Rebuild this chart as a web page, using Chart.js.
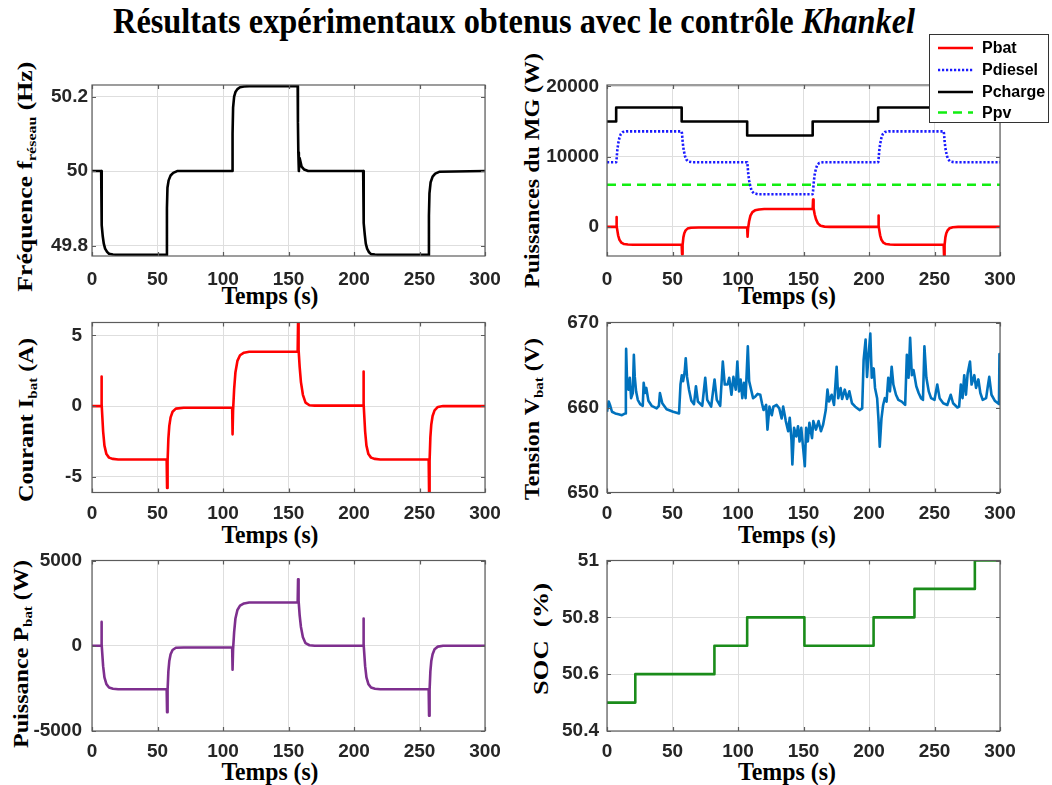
<!DOCTYPE html>
<html>
<head>
<meta charset="utf-8">
<script src="https://cdn.jsdelivr.net/npm/chart.js@4.4.1/dist/chart.umd.min.js"></script>
<style>
html, body { margin: 0; padding: 0; background: #fff; }
#page { position: relative; width: 1052px; height: 785px; overflow: hidden; background: #fff; }
#page canvas { position: absolute; left: 0; top: 0; }
.txt { position: absolute; left: 0; top: 0; white-space: pre; font-family: 'Liberation Serif', 'Times New Roman', serif;
       font-weight: bold; color: #000; line-height: 1; transform-origin: 0 0; }
.txt sub { font-size: 0.62em; line-height: 0; vertical-align: -0.3em; }
</style>
</head>
<body>
<div id="page">
  <div class="txt" id="title" style="font-size:35px">Résultats expérimentaux obtenus avec le contrôle <i>Khankel</i></div>
  <div class="txt" id="yl1" style="font-size:24px">Fréquence f<sub>réseau</sub> (Hz)</div>
  <div class="txt" id="yl2" style="font-size:24px">Puissances du MG (W)</div>
  <div class="txt" id="yl3" style="font-size:24px">Courant I<sub>bat</sub> (A)</div>
  <div class="txt" id="yl4" style="font-size:24px">Tension V<sub>bat</sub> (V)</div>
  <div class="txt" id="yl5" style="font-size:24px">Puissance P<sub>bat</sub> (W)</div>
  <div class="txt" id="yl6" style="font-size:24px">SOC  (%)</div>
  <div class="txt" id="xl1" style="font-size:26px">Temps (s)</div>
  <div class="txt" id="xl2" style="font-size:26px">Temps (s)</div>
  <div class="txt" id="xl3" style="font-size:26px">Temps (s)</div>
  <div class="txt" id="xl4" style="font-size:26px">Temps (s)</div>
  <div class="txt" id="xl5" style="font-size:26px">Temps (s)</div>
  <div class="txt" id="xl6" style="font-size:26px">Temps (s)</div>
</div>
<script>
// ------------------------- DATA -------------------------
const timeTicks  = [0, 50, 100, 150, 200, 250, 300];
const freqTicks  = [49.8, 50, 50.2];
const powerTicks = [0, 10000, 20000];
const ibatTicks  = [-5, 0, 5];
const vbatTicks  = [650, 660, 670];
const pbatTicks  = [-5000, 0, 5000];
const socTicks   = [50.4, 50.6, 50.8, 51];

const freqTime = [0,7,7.2,7.6,8.2,9,10,11.5,13,16,20, 57,57.2,57.6,58.5,60,62,65,
  107,107.3,107.7,108.5,109.5,111,113,116,120, 157,157.2,157.5,157.9,158.5,160,162,165,
  207,207.2,207.6,208.2,209,210,211.5,213,216,220, 257,257.2,257.6,258.5,260,262,265, 300];
const freqHz = [50,50,49.9,49.855,49.825,49.805,49.792,49.783,49.778,49.776,49.775,
  49.775,49.9,49.955,49.975,49.988,49.995,50,
  50,50.1,50.17,50.2,50.212,50.22,50.225,50.227,50.228,
  50.228,50.13,50.05,50.0,50.035,50.012,50.004,50,
  50,49.9,49.86,49.83,49.805,49.792,49.782,49.777,49.776,49.775,
  49.775,49.88,49.94,49.97,49.985,49.993,49.998, 50];

const pbatTime = [0,7,7.2,7.5,8.5,9.5,11,13,16,20, 57,57.3,57.7,58.3,59,60,61.5,64,70,
  107,107.3,107.7,108.5,109.5,111,113,116,120, 157,157.3,157.7,158.5,159.5,161,163,166,170,
  207,207.2,207.5,208.5,209.5,211,213,216,220, 257,257.3,257.7,258.3,259,260,261.5,264,268, 300];
const pbatW = [0,0,1400,100,-1200,-1850,-2250,-2450,-2520,-2550,
  -2550,-3900,-2600,-1500,-900,-500,-250,-120,-100,
  -100,-1400,-200,800,1600,2100,2350,2480,2540,
  2550,3900,2650,1800,1100,500,150,30,0,
  0,1600,100,-1200,-1850,-2250,-2450,-2520,-2550,
  -2550,-4100,-2600,-1500,-900,-500,-200,-50,0, 0];

const pdieselTime = [0,7,7.3,7.8,8.5,9.5,10.5,12,15, 57,57.3,57.8,58.5,59.5,60.5,62,65,
  107,107.3,107.8,108.5,109.5,110.5,112,115, 157,157.3,157.8,158.5,159.5,160.5,162,165,
  207,207.3,207.8,208.5,209.5,210.5,212,215, 257,257.3,257.8,258.5,259.5,260.5,262,265, 300];
const pdieselW = [9200,9200,9600,10800,11800,12700,13200,13500,13600,
  13600,13200,12000,11000,10100,9600,9300,9200,
  9200,8800,7600,6600,5700,5100,4800,4650,
  4650,5100,6300,7400,8300,8800,9100,9200,
  9200,9600,10800,11800,12700,13200,13500,13600,
  13600,13200,12000,11000,10100,9600,9300,9200, 9200];

const pchargeTime = [0,7,7,57,57,107,107,157,157,207,207,257,257,300];
const pchargeW = [15000,15000,17000,17000,15000,15000,13000,13000,15000,15000,17000,17000,15000,15000];

const ppvTime = [0, 300];
const ppvW = [6000, 6000];

const ibatTime = [0,7,7.2,7.5,8.5,9.5,11,13,16,20, 57,57.3,57.7,58.3,59,60,61.5,64,70,
  107,107.3,107.7,108.5,109.5,111,113,116,120, 157,157.3,157.7,158.5,159.5,161,163,166,170,
  207,207.2,207.5,208.5,209.5,211,213,216,220, 257,257.3,257.7,258.3,259,260,261.5,264,268, 300];
const ibatA = [0,0,2.1,0.15,-1.8,-2.8,-3.4,-3.65,-3.74,-3.78,
  -3.78,-5.8,-3.9,-2.3,-1.4,-0.8,-0.4,-0.18,-0.12,
  -0.12,-2.0,-0.3,1.2,2.4,3.2,3.6,3.78,3.85,
  3.87,5.95,4.0,2.8,1.7,0.8,0.25,0.06,0.03,
  0.03,2.45,0.15,-1.8,-2.8,-3.4,-3.65,-3.74,-3.78,
  -3.78,-6.1,-3.9,-2.2,-1.3,-0.7,-0.3,-0.06,0, 0];

const vbatTime = [0,1.3,2.5,3.8,6.3,8.8,11.4,13.9,14.4,14.6,15.4,16.4,17.4,18.4,19.7,20.5,21.2,22.2,23.5,25.3,
  27.3,28.0,29.0,30.0,31.6,34.1,37.9,39.6,40.4,42.2,45.5,50.5,55.0,56.1,57.1,58.1,59.3,60.1,61.1,62.6,
  64.4,66.4,67.9,69.4,72.7,75.0,76.5,79.5,82.1,83.8,86.4,88.4,89.9,92,93.3,95,96.5,98.3,99.5,100.8,
  102,103.3,104.5,105.8,107.5,108.5,110,111.5,113.3,115,117,118.3,119.5,121.5,122.5,124,125.8,127,129.5,131.5,
  133.3,134.5,136.5,138.3,139.5,140.8,141.5,142.8,144.5,145.8,147,148.3,149.5,151,152,153.3,154.5,156.5,157.5,159.5,
  161.5,163.3,165,167,168.3,169.5,171.5,173.3,175.3,176.5,178.3,179.5,181.5,183.3,185,187,189.5,192.8,194.8,195.9,
  197.4,198.5,199.5,201.0,202.1,203.6,204.6,206.2,207.2,208.2,209.5,210.8,212.1,213.4,214.7,216.0,217.3,218.6,220.6,222.4,
  225.0,227.6,228.9,230.2,231.4,232.7,234.0,236.1,237.9,239.7,241.2,242.3,243.8,245.6,247.4,250.0,252.1,253.9,256.7,259.8,
  262.4,264.2,267.5,268.8,270.1,271.4,272.7,274.0,275.3,277.1,278.3,280.4,281.7,283.5,285.0,286.8,289.4,290.7,291.8,293.5,
  296,299.2,299.6,300];
const vbatV = [659.5,660.7,660.2,659.5,659.3,659.2,659.1,659.3,663.5,666.9,662.7,662.1,663.5,661.1,661.7,666.2,663.6,661.9,660.9,660.4,
  660.2,662.9,661.7,662.3,660.8,660.2,659.9,660.2,661.7,660.5,659.8,659.5,659.3,662.7,663.8,663.1,664.2,665.8,663.6,662.1,
  660.8,660.4,662.5,660.7,660.2,663.5,660.9,660.1,663.3,660.9,660.2,665.4,662.7,662.7,663.5,661.5,663.6,662.1,665.4,661.9,
  663.3,661.1,662.9,661.1,667.2,663.1,662.1,661.1,661.3,661.6,661.5,660.5,659.7,660.3,657.4,660.1,659.1,660.1,660.3,659.9,
  658.7,660.1,658.4,657.2,658.8,656.2,653.3,657.6,656.6,657.8,656.0,657.6,655.6,653.1,657.6,656.0,658.2,656.4,658.4,657.4,
  658.4,657.2,658.0,659.7,662.1,660.7,661.5,660.3,664.8,661.1,662.3,661.0,662.1,661.0,661.9,660.5,660.1,659.7,659.9,665.6,
  668.0,663.6,665.8,668.7,663.5,664.6,662.3,661.1,658.7,655.4,658.7,660.3,661.1,660.7,663.5,661.9,664.8,662.7,661.5,660.9,
  660.7,660.3,666.2,663.5,668.2,663.8,664.4,662.5,661.7,661.1,660.9,667.2,663.5,661.9,661.1,660.9,662.7,661.1,660.5,660.3,
  661.5,660.5,660.0,660.1,662.7,661.1,663.8,661.5,664.0,665.4,662.7,663.8,662.3,663.3,661.7,660.9,661.1,662.5,663.6,661.5,
  660.8,660.4,666.3,664.0];

const socTime = [0,21.6,21.6,82,82,107,107,150.7,150.7,203.5,203.5,234.7,234.7,280.8,280.8,300];
const socPct  = [50.5,50.5,50.6,50.6,50.7,50.7,50.8,50.8,50.7,50.7,50.8,50.8,50.9,50.9,51,51];

// ------------------------- LAYOUT / STYLE -------------------------
const W = 1052, H = 785, YW = 90, XH = 45;
const GRID = '#dedede', FRAME = '#5c5c5c', TICKCOL = '#262626';
const TICKFONT = { family: "'Liberation Sans', Arial, sans-serif", weight: 'bold', size: 19 };

function pts(xs, ys) { return xs.map((x, i) => ({ x: x, y: ys[i] })); }
function ds(label, xs, ys, color, extra) {
  return Object.assign({ label: label, data: pts(xs, ys), borderColor: color, backgroundColor: color,
    borderWidth: 2.6, pointRadius: 0, tension: 0, fill: false, borderJoinStyle: 'round' }, extra || {});
}

const framePlugin = {
  id: 'frameTicks',
  afterDatasetsDraw(chart) {
    const { ctx, chartArea: a, scales } = chart;
    const x = scales.x, y = scales.y;
    ctx.save();
    ctx.strokeStyle = FRAME;
    ctx.lineWidth = 1.2;
    ctx.strokeRect(a.left, a.top, a.right - a.left, a.bottom - a.top);
    ctx.beginPath();
    x.ticks.forEach(t => {
      const px = Math.round(x.getPixelForValue(t.value)) + 0.5;
      ctx.moveTo(px, a.bottom); ctx.lineTo(px, a.bottom - 4);
      ctx.moveTo(px, a.top); ctx.lineTo(px, a.top + 4);
    });
    y.ticks.forEach(t => {
      const py = Math.round(y.getPixelForValue(t.value)) + 0.5;
      ctx.moveTo(a.left, py); ctx.lineTo(a.left + 4, py);
      ctx.moveTo(a.right, py); ctx.lineTo(a.right - 4, py);
    });
    ctx.stroke();
    ctx.restore();
  }
};

const legendPlugin = {
  id: 'mgLegend',
  afterDraw(chart) {
    const o = chart.options.plugins.mgLegend;
    if (!o || !o.show) return;
    const ctx = chart.ctx;
    ctx.save();
    ctx.fillStyle = '#fff';
    ctx.fillRect(o.x, o.y, o.w, o.h);
    ctx.strokeStyle = '#333';
    ctx.lineWidth = 1;
    ctx.strokeRect(o.x + 0.5, o.y + 0.5, o.w - 1, o.h - 1);
    ctx.font = "bold 16px 'Liberation Sans', Arial, sans-serif";
    ctx.textBaseline = 'middle';
    ctx.fillStyle = '#000';
    chart.data.datasets.forEach((d, i) => {
      const ry = o.rows[i];
      ctx.beginPath();
      ctx.setLineDash(d.borderDash || []);
      ctx.strokeStyle = d.borderColor;
      ctx.lineWidth = 2.6;
      ctx.moveTo(o.x + 9, ry); ctx.lineTo(o.x + 44, ry);
      ctx.stroke();
      ctx.setLineDash([]);
      ctx.fillText(d.label, o.x + 53, ry + 1);
    });
    ctx.restore();
  }
};

function makePanel(p) {
  const cv = document.createElement('canvas');
  cv.width = W; cv.height = H;
  document.getElementById('page').appendChild(cv);
  return new Chart(cv, {
    type: 'line',
    data: { datasets: p.datasets },
    options: {
      responsive: false, animation: false, events: [],
      layout: { padding: { left: p.left - YW, right: W - p.right, top: p.top, bottom: H - p.bottom - XH } },
      plugins: { legend: { display: false }, tooltip: { enabled: false }, title: { display: false },
                 mgLegend: p.legend || { show: false } },
      scales: {
        x: {
          type: 'linear', min: 0, max: 300,
          afterBuildTicks: s => { s.ticks = timeTicks.map(v => ({ value: v })); },
          afterFit: s => { s.height = XH; },
          grid: { color: GRID, lineWidth: 1, drawTicks: false },
          border: { display: false },
          ticks: { padding: p.xpad, font: TICKFONT, color: TICKCOL, autoSkip: false, maxRotation: 0,
                   callback: v => String(v) }
        },
        y: {
          type: 'linear', min: p.ymin, max: p.ymax,
          afterBuildTicks: s => { s.ticks = p.yticks.map(v => ({ value: v })); },
          afterFit: s => { s.width = YW; },
          grid: { color: GRID, lineWidth: 1, drawTicks: false },
          border: { display: false },
          ticks: { padding: p.ypad, font: TICKFONT, color: TICKCOL, autoSkip: false,
                   callback: v => String(v) }
        }
      }
    },
    plugins: [framePlugin, legendPlugin]
  });
}

makePanel({ left: 92, right: 485, top: 85, bottom: 256, ymin: 49.772, ymax: 50.231, yticks: freqTicks, ypad: 4, xpad: 12,
  datasets: [ds('f', freqTime, freqHz, '#000000')] });

makePanel({ left: 607, right: 1000, top: 85, bottom: 256, ymin: -4150, ymax: 20200, yticks: powerTicks, ypad: 8, xpad: 12,
  datasets: [
    ds('Pbat', pbatTime, pbatW, '#ff0000'),
    ds('Pdiesel', pdieselTime, pdieselW, '#1a1aff', { borderDash: [2.2, 1.8], borderCapStyle: 'butt' }),
    ds('Pcharge', pchargeTime, pchargeW, '#000000'),
    ds('Ppv', ppvTime, ppvW, '#11ee11', { borderDash: [9, 6] })
  ],
  legend: { show: true, x: 929, y: 34, w: 120, h: 89, rows: [48, 70, 92, 112.5] } });

makePanel({ left: 92, right: 485, top: 322.5, bottom: 492.5, ymin: -6.12, ymax: 5.92, yticks: ibatTicks, ypad: 10, xpad: 10,
  datasets: [ds('Ibat', ibatTime, ibatA, '#ff0000')] });

makePanel({ left: 607, right: 1000, top: 322.5, bottom: 492.5, ymin: 650, ymax: 670, yticks: vbatTicks, ypad: 8, xpad: 10,
  datasets: [ds('Vbat', vbatTime, vbatV, '#0072bd')] });

makePanel({ left: 92, right: 485, top: 560.5, bottom: 731, ymin: -5000, ymax: 5000, yticks: pbatTicks, ypad: 10, xpad: 9,
  datasets: [ds('Pbat', pbatTime, pbatW, '#7e2f8e')] });

makePanel({ left: 607, right: 1000, top: 560.5, bottom: 731, ymin: 50.4, ymax: 51, yticks: socTicks, ypad: 8, xpad: 9,
  datasets: [ds('SOC', socTime, socPct, '#1a8c1a')] });

// ------------------------- TEXT PLACEMENT -------------------------
function place(id, cx, cy, len, rot, thick) {
  const el = document.getElementById(id);
  el.style.transform = 'none';
  const r = el.getBoundingClientRect();
  const w = r.width, h = r.height;
  const sx = len / w, sy = thick || 1;
  el.style.transform = 'translate(' + cx + 'px,' + cy + 'px) rotate(' + rot + 'deg) scale(' + sx + ',' + sy + ') translate(' + (-w / 2) + 'px,' + (-h / 2) + 'px)';
}
function layoutTexts() {
  place('title', 514, 21.5, 802, 0, 1);
  place('yl1', 25, 176.7, 230, -90, 0.88);
  place('yl2', 532, 170.5, 235, -90, 0.88);
  place('yl3', 26, 420, 164, -90, 0.88);
  place('yl4', 532, 419, 162, -90, 0.88);
  place('yl5', 21, 654, 188, -90, 0.88);
  place('yl6', 541, 639, 112, -90, 0.88);
  place('xl1', 270, 296, 97, 0, 1);
  place('xl2', 787, 296, 98, 0, 1);
  place('xl3', 270, 535, 97, 0, 1);
  place('xl4', 787, 535, 98, 0, 1);
  place('xl5', 270, 772, 97, 0, 1);
  place('xl6', 787, 772, 98, 0, 1);
}
layoutTexts();
if (document.fonts && document.fonts.ready) document.fonts.ready.then(layoutTexts);
</script>
</body>
</html>
